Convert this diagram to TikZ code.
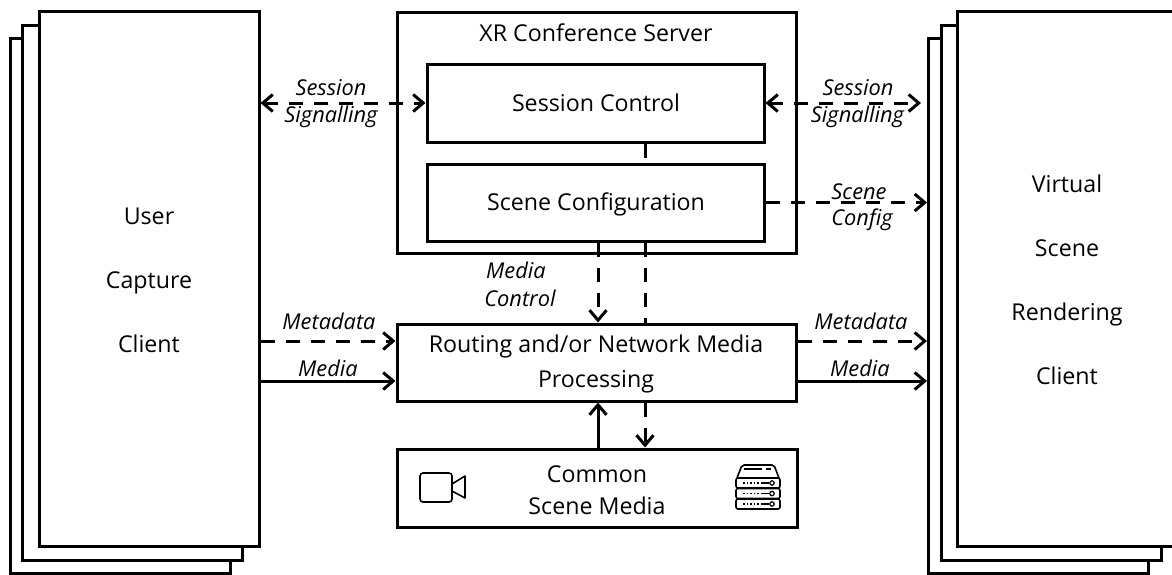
\documentclass[tikz,border=0pt]{standalone}
\usepackage{fontspec}
\setmainfont{Open Sans}
\usetikzlibrary{arrows.meta}
\tikzset{
	frame/.style={draw=black, line width=3pt, fill=white, inner sep=0pt},
	stack/.style={frame, minimum width=220pt, minimum height=535pt},
	tag/.style={font=\fontsize{21.8}{25}\selectfont\itshape, inner sep=0pt},
	word/.style={font=\fontsize{23.2}{35}\selectfont, inner sep=0pt, align=center},
	dashline/.style={line width=3pt, dash pattern=on 14pt off 11pt},
	plainline/.style={line width=3pt},
	icon/.style={line width=1.6pt, line join=round},
	>={Straight Barb[length=10pt, width=17pt, line width=3pt]}
}

\begin{document}
\begin{tikzpicture}[x=1pt, y=-1pt]
	\useasboundingbox (0, 0) rectangle (1172, 574);
	%%%%% START %%%%%

	% client stacks
	\node[stack] (captureback) at (120.5, 305.5) {};
	\node[stack] (capturemid) at (132, 292.5) {};
	\node[stack] (capture) at (149, 278.5) {};
	\node[word] (capturetext) at (149, 280) {User\\[29pt]Capture\\[29pt]Client};

	\node[stack] (renderback) at (1038.5, 305.5) {};
	\node[stack] (rendermid) at (1051.5, 292.5) {};
	\node[stack] (render) at (1067, 278.5) {};
	\node[word] (rendertext) at (1067, 280) {Virtual\\[29pt]Scene\\[29pt]Rendering\\[29pt]Client};

	% server
	\node[frame, minimum width=399pt, minimum height=241pt] (server) at (596.5, 132.5) {};
	\node[word] (servertext) at (596, 33) {XR Conference Server};
	\node[frame, minimum width=337pt, minimum height=78pt] (session) at (595.5, 103) {};
	\node[word] (sessiontext) at (596, 103) {Session Control};
	\node[frame, minimum width=337pt, minimum height=77pt] (sceneconf) at (595.5, 202.5) {};
	\node[word] (sceneconftext) at (596, 204) {Scene Configuration};
	\node[frame, minimum width=399pt, minimum height=77pt] (routing) at (596.5, 362.5) {};
	\node[word] (routingtext) at (596, 364) {Routing and/or Network Media\\Processing};
	\node[frame, minimum width=400pt, minimum height=78pt] (common) at (597, 488) {};
	\node[word, font=\fontsize{23.2}{32}\selectfont] (commontext) at (597, 490) {Common\\Scene Media};

	\coordinate (metarow) at (0, 341);
	\coordinate (mediarow) at (0, 381);
	\coordinate (downcol) at (598, 0);
	\coordinate (linkcol) at (645, 0);

	% connectors
	\draw[dashline, <->] (capture.east |- session.west) -- (session.west);
	\draw[dashline, <->] (session.east) -- ([xshift=-6pt]renderback.west |- session.east);
	\draw[dashline, ->] (sceneconf.east) -- (renderback.west |- sceneconf.east);
	\draw[dashline] (linkcol |- session.south) -- (linkcol |- sceneconf.north);
	\draw[dashline, ->] (downcol |- sceneconf.south) -- (downcol |- routing.north);
	\draw[dashline] (linkcol |- sceneconf.south) -- (linkcol |- routing.north);
	\draw[dashline, ->] (capture.east |- metarow) -- (routing.west |- metarow);
	\draw[plainline, ->] (capture.east |- mediarow) -- (routing.west |- mediarow);
	\draw[dashline, ->] (routing.east |- metarow) -- (renderback.west |- metarow);
	\draw[plainline, ->] (routing.east |- mediarow) -- (renderback.west |- mediarow);
	\draw[dashline, ->] (linkcol |- routing.south) -- (linkcol |- common.north);
	\draw[plainline, ->] (downcol |- common.north) -- (downcol |- routing.south);

	% connector labels
	\node[tag] (sessiona) at (331, 88) {Session};
	\node[tag] (signala) at (331, 117) {Signalling};
	\node[tag] (sessionb) at (858, 88) {Session};
	\node[tag] (signalb) at (857.5, 117) {Signalling};
	\node[tag] (scenetag) at (859, 192) {Scene};
	\node[tag] (configtag) at (862, 220) {Config};
	\node[tag] (mediatag) at (516, 270) {Media};
	\node[tag] (controltag) at (520, 298) {Control};
	\node[tag] (metaa) at (329, 321) {Metadata};
	\node[tag] (mediaa) at (328, 368) {Media};
	\node[tag] (metab) at (861, 321) {Metadata};
	\node[tag] (mediab) at (860, 368) {Media};

	% camera icon
	\draw[icon, rounded corners=3pt] (420, 473) rectangle (452, 502);
	\draw[icon] (452, 484) -- (465, 476) -- (465, 498) -- (452, 491);

	% server icon
	\draw[icon, rounded corners=2pt] (737, 478) -- (742, 465) -- (774, 465) -- (779, 478);
	\draw[icon, line width=1.4pt] (744, 469) -- (762, 469) (766, 469) -- (771, 469);
	\foreach \y in {478, 488.5, 499} {
		\draw[icon, rounded corners=2pt] (736, \y) rectangle (780, \y+10);
		\draw[line width=1.4pt, dash pattern=on 1.5pt off 2pt] (743, \y+5) -- (762, \y+5);
		\draw[line width=1.2pt] (762, \y+5) -- (769, \y+5);
		\draw[line width=1.2pt] (772, \y+5) circle (2.2);
	}

	%%%%% END %%%%%
\end{tikzpicture}
\end{document}
